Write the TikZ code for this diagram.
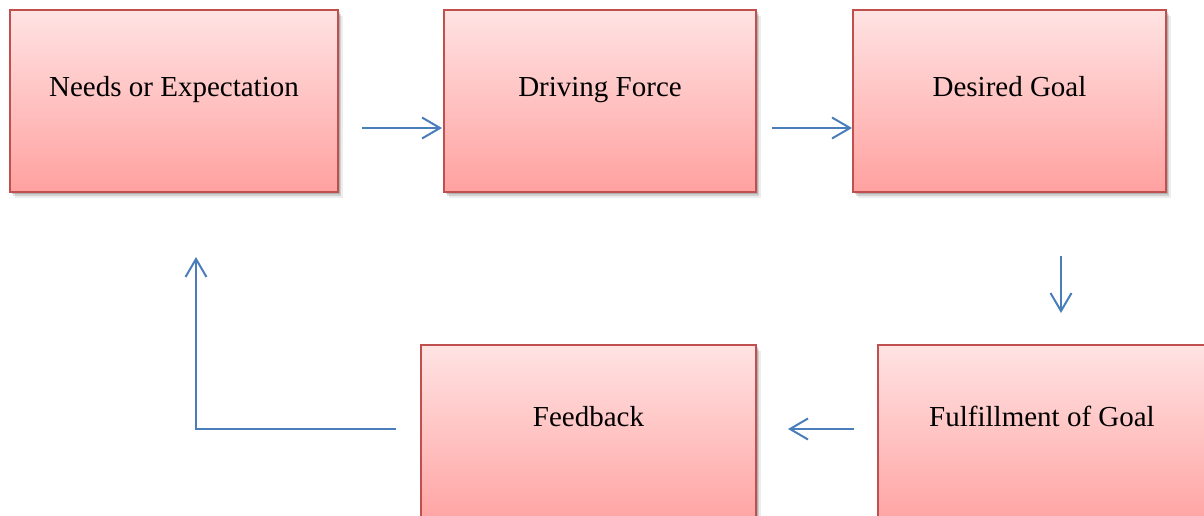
\documentclass[tikz,border=0pt]{standalone}
\usepackage{fontspec}
\setmainfont{Liberation Serif}
\usetikzlibrary{arrows.meta,calc}
\definecolor{boxtop}{RGB}{255,227,227}
\definecolor{boxbot}{RGB}{255,161,160}
\definecolor{boxline}{RGB}{192,80,77}
\definecolor{flow}{RGB}{74,126,187}
\tikzset{
  box/.style={rectangle, draw=boxline, line width=1.4pt,
    top color=boxtop, bottom color=boxbot,
    preaction={fill=black, opacity=0.07, transform canvas={shift={(4.5pt,-6pt)}}},
    preaction={fill=black, opacity=0.12, transform canvas={shift={(3pt,-4pt)}}},
    preaction={fill=black, opacity=0.16, transform canvas={shift={(1.5pt,-2pt)}}}},
  lbl/.style={anchor=base, inner sep=0pt, font=\fontsize{29}{34}\selectfont},
  flowarrow/.style={draw=flow, line width=2pt,
    -{Straight Barb[length=18pt,width=21pt]}}
}
\begin{document}
\begin{tikzpicture}[x=1pt,y=-1pt]
\useasboundingbox (0,0) rectangle (1204,516);
% boxes
\node[box, minimum width=328pt, minimum height=182pt] (b1) at (174,101) {};
\node[box, minimum width=312pt, minimum height=182pt] (b2) at (600,101) {};
\node[box, minimum width=313pt, minimum height=182pt] (b3) at (1009.5,101) {};
\node[box, minimum width=335pt, minimum height=185pt] (b4) at (588.5,437.5) {};
\node[box, minimum width=328pt, minimum height=185pt] (b5) at (1042,437.5) {};
% labels
\node[lbl] (t1) at ($(b1.north)+(0,87)$) {Needs or Expectation};
\node[lbl] (t2) at ($(b2.north)+(0,87)$) {Driving Force};
\node[lbl] (t3) at ($(b3.north)+(0,87)$) {Desired Goal};
\node[lbl] (t4) at ($(b4.north)+(0,82)$) {Feedback};
\node[lbl] (t5) at ($(b5.north)+(0,82)$) {Fulfillment of Goal};
% arrow end points
\coordinate (a1s) at (362,128);
\coordinate (a1e) at (442,128);
\coordinate (a2s) at (772,128);
\coordinate (a2e) at (852,128);
\coordinate (a3s) at (1061,256);
\coordinate (a3e) at (1061,313);
\coordinate (a4s) at (854,429);
\coordinate (a4e) at (788,429);
\coordinate (a5s) at (396,429);
\coordinate (a5c) at (196,429);
\coordinate (a5e) at (196,257);
% arrows
\draw[flowarrow] (a1s) -- (a1e);
\draw[flowarrow] (a2s) -- (a2e);
\draw[flowarrow] (a3s) -- (a3e);
\draw[flowarrow] (a4s) -- (a4e);
\draw[flowarrow] (a5s) -- (a5c) -- (a5e);
\end{tikzpicture}
\end{document}
